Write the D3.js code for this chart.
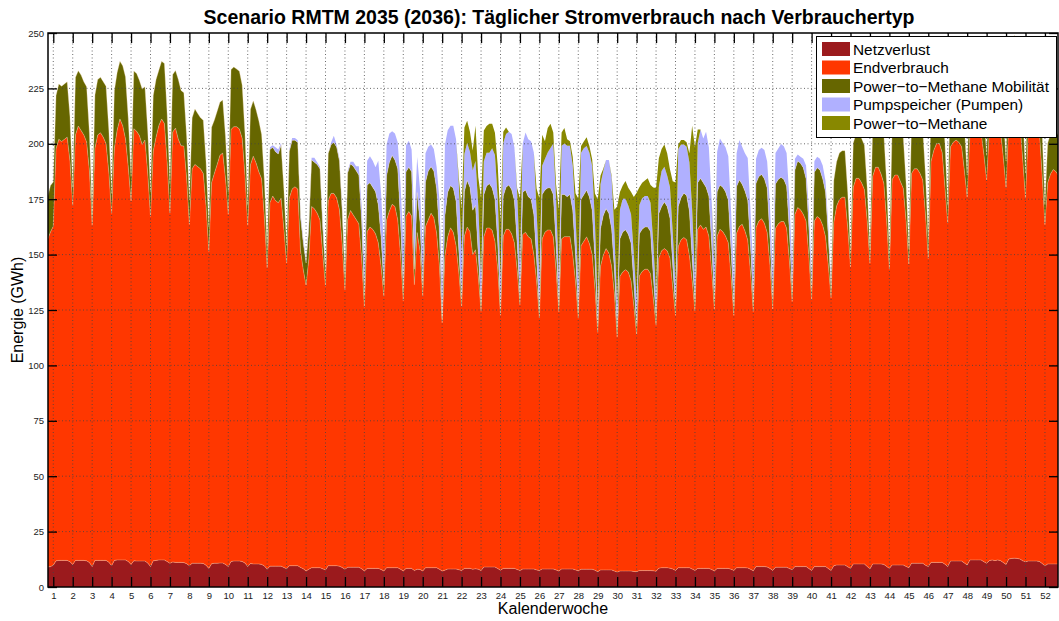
<!DOCTYPE html>
<html>
<head>
<meta charset="utf-8">
<script src="https://cdn.jsdelivr.net/npm/d3@7"></script>
<style>
  body { margin: 0; background: #fff; }
  svg { display: block; font-family: "Liberation Sans", Arial, Helvetica, sans-serif; }
  .tick line { stroke: #000; stroke-width: 1.3; }
  .tick text { font-size: 9.5px; fill: #222; font-family: "Liberation Sans", Arial, sans-serif; }
</style>
</head>
<body>
<div id="chart"></div>
<script>
var width = 1059, height = 621;
var plotLeft = 48, plotRight = 1058, plotTop = 33, plotBottom = 587;

// daily values (GWh), day 0 = 1 Jan; one line per calendar week (Mon..Sun)
var netzverlust = [
  9.0, 9.2, 9.8,
  11.8, 12.0, 12.0, 12.0, 12.0, 11.4, 10.2,
  12.0, 12.0, 12.0, 12.0, 11.8, 11.0, 9.2,
  12.0, 12.0, 12.0, 12.0, 12.0, 11.2, 9.6,
  12.0, 12.2, 12.2, 12.2, 12.2, 11.5, 10.2,
  11.8, 11.7, 11.7, 11.7, 11.7, 10.8, 9.2,
  11.8, 12.0, 12.2, 12.2, 12.2, 11.5, 10.7,
  11.3, 11.1, 11.1, 11.1, 11.0, 10.5, 9.6,
  10.7, 10.7, 10.7, 10.7, 10.6, 9.8, 8.4,
  10.5, 10.7, 10.7, 10.8, 10.8, 10.2, 9.2,
  11.5, 11.7, 11.7, 11.7, 11.5, 10.8, 9.2,
  10.6, 10.4, 10.4, 10.4, 10.2, 9.5, 8.0,
  9.4, 9.4, 9.4, 9.4, 9.4, 8.8, 8.2,
  9.6, 9.6, 9.6, 9.6, 8.8, 8.2, 7.2,
  8.0, 8.7, 8.7, 8.7, 8.7, 8.2, 7.7,
  9.6, 9.6, 9.6, 9.6, 9.4, 8.8, 8.0,
  8.9, 8.9, 8.9, 8.9, 8.9, 8.2, 7.2,
  8.4, 8.4, 8.4, 8.4, 8.4, 7.9, 7.2,
  8.7, 8.7, 8.7, 8.7, 8.7, 8.0, 7.2,
  8.4, 8.4, 8.4, 7.4, 8.0, 7.9, 7.2,
  8.7, 8.7, 8.7, 8.7, 8.7, 8.0, 7.2,
  7.6, 8.1, 8.1, 8.1, 8.1, 7.8, 7.4,
  8.4, 8.4, 8.4, 8.0, 8.2, 8.0, 7.4,
  9.0, 9.0, 9.0, 9.0, 9.0, 8.3, 7.6,
  8.4, 8.4, 8.4, 8.4, 8.4, 7.9, 7.4,
  8.1, 8.1, 8.1, 8.1, 8.1, 7.7, 7.4,
  8.1, 8.1, 8.1, 8.1, 8.1, 7.7, 7.2,
  8.1, 8.1, 8.1, 8.1, 8.1, 7.7, 7.3,
  8.0, 8.0, 8.0, 8.0, 8.0, 7.6, 6.9,
  7.7, 7.7, 7.7, 7.7, 7.7, 7.2, 6.7,
  7.2, 7.2, 7.2, 7.2, 7.2, 7.0, 6.9,
  7.4, 7.4, 7.4, 7.4, 7.4, 7.3, 7.1,
  8.5, 8.7, 8.7, 8.7, 8.5, 8.1, 7.5,
  8.7, 8.7, 8.7, 8.7, 8.7, 8.1, 7.5,
  8.4, 8.4, 8.4, 8.4, 8.4, 7.9, 7.2,
  8.4, 8.4, 8.4, 8.4, 8.4, 8.0, 7.5,
  8.7, 8.7, 8.7, 8.7, 8.6, 8.0, 7.3,
  9.2, 9.2, 9.2, 9.2, 9.0, 8.4, 7.5,
  8.9, 8.9, 8.9, 8.9, 8.9, 8.3, 7.8,
  9.2, 9.2, 9.2, 9.2, 9.2, 8.3, 7.5,
  9.2, 9.2, 9.2, 9.2, 9.2, 8.3, 7.5,
  9.6, 9.9, 9.9, 9.9, 9.9, 9.1, 8.4,
  10.4, 10.4, 10.4, 10.4, 10.4, 9.3, 8.1,
  10.4, 10.4, 10.4, 10.4, 10.2, 9.3, 8.4,
  9.9, 9.9, 9.9, 9.9, 9.9, 9.3, 8.7,
  10.7, 10.7, 10.7, 10.7, 10.7, 9.8, 9.2,
  11.1, 11.1, 11.1, 11.1, 11.1, 10.3, 9.2,
  11.7, 11.7, 11.7, 11.7, 11.7, 10.8, 9.9,
  12.2, 12.2, 12.2, 12.2, 12.2, 11.4, 10.7,
  11.9, 12.2, 11.9, 12.2, 11.9, 11.0, 10.2,
  12.6, 12.9, 13.0, 12.9, 12.6, 11.8, 11.4,
  11.7, 11.7, 11.7, 11.7, 11.5, 10.6, 9.5,
  10.4, 10.4, 10.4, 10.4, 10.4, 10.2
];

var endverbrauch = [
  148, 151, 153,
  186, 190, 189, 190, 191, 181, 162,
  192, 196, 194, 192, 189, 177, 154,
  186, 192, 193, 191, 188, 176, 159,
  186, 194, 199, 196, 190, 178, 164,
  195, 194, 192, 188, 190, 176, 158,
  185, 191, 196, 199, 197, 180, 158,
  194, 196, 191, 188, 188, 174, 154,
  178, 180, 179, 178, 176, 162, 143,
  172, 176, 180, 184, 185, 174, 159,
  195, 196, 196, 195, 191, 175, 154,
  180, 184, 181, 177, 174, 157, 136,
  164, 167, 165, 164, 166, 153, 138,
  166, 170, 171, 170, 143, 135, 129,
  140, 163, 162, 160, 157, 142, 128,
  165, 168, 168, 166, 161, 146, 126,
  157, 161, 159, 157, 155, 140, 119,
  152, 154, 153, 151, 147, 137, 124,
  157, 161, 164, 163, 157, 142, 122,
  159, 161, 159, 129, 152, 144, 124,
  154, 157, 160, 158, 151, 137, 112,
  142, 150, 154, 152, 146, 134, 119,
  150, 154, 152, 142, 144, 132, 117,
  149, 153, 153, 152, 147, 135, 115,
  150, 153, 153, 151, 147, 135, 120,
  151, 152, 150, 149, 142, 130, 114,
  149, 152, 153, 153, 150, 135, 117,
  149, 150, 150, 150, 142, 130, 114,
  146, 148, 150, 147, 142, 127, 108,
  137, 142, 145, 143, 137, 125, 106,
  133, 135, 136, 135, 131, 120, 107,
  133, 135, 136, 136, 134, 123, 111,
  140, 143, 144, 143, 140, 127, 115,
  145, 148, 149, 148, 141, 130, 117,
  153, 155, 153, 154, 150, 135, 118,
  150, 153, 152, 150, 147, 132, 115,
  151, 154, 155, 152, 148, 134, 117,
  153, 156, 157, 155, 151, 137, 118,
  153, 155, 156, 156, 153, 139, 121,
  159, 162, 161, 159, 156, 141, 122,
  156, 158, 157, 154, 149, 137, 123,
  155, 162, 165, 166, 166, 153, 136,
  170, 174, 174, 172, 169, 156, 138,
  175, 179, 179, 176, 172, 156, 135,
  174, 176, 176, 173, 170, 156, 137,
  176, 178, 178, 176, 173, 158, 139,
  181, 186, 189, 189, 185, 170, 155,
  187, 189, 190, 189, 187, 177, 166,
  193, 196, 197, 196, 193, 184, 173,
  194, 197, 198, 197, 194, 183, 170,
  197, 201, 202, 200, 197, 181, 164,
  194, 197, 198, 196, 194, 175, 154,
  172, 176, 178, 177, 175, 170
];

var mobilitaet = [
  19, 21, 20,
  24, 25, 25, 25, 25, 20, 8,
  26, 25, 25, 24, 25, 17, 5,
  24, 25, 25, 25, 26, 19, 9,
  26, 26, 26, 27, 28, 22, 11,
  26, 26, 25, 25, 24, 19, 11,
  25, 26, 25, 26, 27, 22, 13,
  26, 26, 27, 25, 24, 19, 11,
  23, 25, 24, 23, 24, 20, 11,
  25, 24, 24, 24, 24, 19, 10,
  27, 27, 26, 26, 24, 19, 9,
  25, 25, 24, 23, 20, 17, 8,
  24, 22, 22, 22, 24, 18, 8,
  21, 22, 21, 21, 15, 12, 10,
  14, 21, 21, 22, 23, 12, 6,
  21, 22, 23, 23, 22, 15, 6,
  21, 21, 22, 22, 22, 17, 5,
  21, 20, 19, 19, 17, 13, 5,
  20, 22, 22, 21, 23, 15, 5,
  20, 20, 20, 7, 18, 13, 4,
  20, 22, 21, 21, 20, 15, 2,
  18, 20, 19, 20, 20, 10, 3,
  20, 21, 20, 20, 20, 10, 3,
  19, 19, 20, 19, 19, 12, 3,
  18, 19, 20, 20, 19, 12, 3,
  19, 19, 18, 18, 18, 10, 3,
  20, 19, 19, 19, 19, 12, 3,
  20, 19, 18, 19, 20, 12, 3,
  21, 21, 21, 21, 20, 13, 3,
  17, 18, 18, 18, 17, 11, 4,
  17, 18, 18, 17, 17, 10, 4,
  19, 19, 19, 19, 19, 10, 4,
  20, 20, 21, 20, 18, 10, 4,
  18, 19, 20, 20, 20, 10, 4,
  21, 21, 21, 18, 18, 12, 4,
  20, 20, 20, 20, 19, 12, 4,
  21, 21, 18, 18, 18, 12, 4,
  20, 20, 20, 20, 20, 12, 4,
  20, 20, 20, 19, 19, 13, 4,
  20, 21, 21, 21, 19, 13, 4,
  22, 22, 22, 21, 20, 13, 4,
  19, 20, 21, 21, 21, 16, 6,
  20, 20, 20, 20, 20, 15, 6,
  23, 22, 22, 22, 22, 17, 7,
  23, 23, 23, 23, 23, 17, 7,
  24, 24, 23, 23, 23, 18, 8,
  26, 25, 25, 24, 24, 20, 8,
  26, 26, 26, 26, 25, 20, 10,
  27, 27, 27, 27, 27, 20, 11,
  28, 28, 28, 28, 27, 20, 12,
  30, 32, 34, 32, 30, 22, 11,
  27, 28, 28, 28, 27, 19, 9,
  18, 18, 18, 18, 18, 18
];

var pumpen = [
  0, 0, 0,
  0, 0, 0, 0, 0, 0, 0,
  0, 0, 0, 0, 0, 0, 0,
  0, 0, 0, 0, 0, 0, 0,
  0, 0, 0, 0, 0, 0, 0,
  0, 0, 0, 0, 0, 0, 0,
  0, 0, 0, 0, 0, 0, 0,
  0, 0, 0, 0, 0, 0, 0,
  0, 0, 0, 0, 0, 0, 0,
  0, 0, 0, 0, 0, 0, 0,
  0, 0, 0, 0, 0, 0, 0,
  0, 0, 0, 0, 0, 0, 0,
  1, 1, 2, 2, 1, 0, 0,
  1, 1, 1, 1, 2, 2, 1,
  2, 1, 2, 1, 1, 3, 2,
  0, 1, 3, 1, 1, 2, 3,
  1, 1, 2, 2, 4, 7, 14,
  11, 12, 12, 11, 20, 20, 18,
  14, 13, 11, 12, 12, 17, 21,
  12, 12, 10, 22, 16, 15, 17,
  13, 11, 10, 10, 10, 15, 13,
  32, 28, 27, 28, 28, 30, 21,
  17, 17, 16, 18, 20, 22, 13,
  15, 15, 14, 18, 20, 20, 14,
  24, 24, 24, 25, 24, 23, 15,
  22, 26, 26, 26, 28, 22, 16,
  13, 14, 16, 18, 23, 21, 13,
  22, 23, 23, 22, 20, 18, 14,
  21, 21, 20, 20, 20, 17, 8,
  20, 20, 22, 24, 23, 17, 11,
  13, 15, 14, 13, 13, 13, 12,
  13, 14, 14, 14, 13, 15, 10,
  12, 16, 16, 14, 14, 15, 10,
  26, 24, 22, 22, 22, 22, 12,
  18, 22, 20, 25, 22, 20, 16,
  18, 21, 20, 20, 20, 18, 14,
  15, 18, 17, 17, 19, 16, 14,
  11, 12, 12, 13, 12, 15, 13,
  14, 14, 15, 15, 15, 15, 12,
  5, 3, 3, 4, 6, 8, 8,
  5, 5, 5, 6, 5, 5, 3,
  0, 0, 0, 0, 0, 0, 0,
  0, 0, 0, 0, 0, 0, 0,
  0, 0, 0, 0, 0, 0, 0,
  0, 0, 0, 0, 0, 0, 0,
  0, 0, 0, 0, 0, 0, 0,
  0, 0, 0, 0, 0, 0, 0,
  0, 0, 0, 0, 0, 0, 0,
  0, 0, 0, 0, 0, 0, 0,
  0, 0, 0, 0, 0, 0, 0,
  0, 0, 0, 0, 0, 0, 0,
  0, 0, 0, 0, 0, 0, 0,
  0, 0, 0, 0, 0, 0
];

var methan = [
  0, 0, 0,
  0, 0, 0, 0, 0, 0, 0,
  0, 0, 0, 0, 0, 0, 0,
  0, 0, 0, 0, 0, 0, 0,
  0, 0, 0, 0, 0, 0, 0,
  0, 0, 0, 0, 0, 0, 0,
  0, 0, 0, 0, 0, 0, 0,
  0, 0, 0, 0, 0, 0, 0,
  0, 0, 0, 0, 0, 0, 0,
  0, 0, 0, 0, 0, 0, 0,
  0, 0, 0, 0, 0, 0, 0,
  0, 0, 0, 0, 0, 0, 0,
  0, 0, 0, 0, 0, 0, 0,
  0, 0, 0, 0, 0, 0, 0,
  0, 0, 0, 0, 0, 0, 0,
  0, 0, 0, 0, 0, 0, 0,
  0, 0, 0, 0, 0, 0, 0,
  0, 0, 0, 0, 0, 0, 0,
  0, 0, 0, 0, 0, 0, 0,
  0, 0, 0, 0, 0, 0, 0,
  0, 0, 0, 0, 0, 0, 0,
  0, 0, 0, 0, 0, 3, 20,
  12, 10, 9, 9, 16, 13, 35,
  14, 12, 13, 11, 10, 15, 25,
  5, 3, 0, 0, 0, 2, 30,
  0, 0, 0, 0, 0, 10, 35,
  14, 8, 11, 11, 5, 6, 30,
  6, 7, 3, 2, 4, 10, 37,
  3, 3, 4, 3, 3, 13, 49,
  4, 1, 0, 0, 1, 10, 44,
  8, 6, 8, 8, 10, 26, 48,
  8, 7, 7, 8, 8, 25, 48,
  13, 10, 10, 10, 8, 23, 46,
  2, 2, 2, 2, 4, 38, 58,
  6, 0, 0, 0, 0, 0, 5,
  0, 0, 0, 0, 0, 0, 0,
  0, 0, 0, 0, 0, 0, 0,
  0, 0, 0, 0, 0, 0, 0,
  0, 0, 0, 0, 0, 0, 0,
  0, 0, 0, 0, 0, 0, 0,
  0, 0, 0, 0, 0, 0, 0,
  0, 0, 0, 0, 0, 0, 0,
  0, 0, 0, 0, 0, 0, 0,
  0, 0, 0, 0, 0, 0, 0,
  0, 0, 0, 0, 0, 0, 0,
  0, 0, 0, 0, 0, 0, 0,
  0, 0, 0, 0, 0, 0, 0,
  0, 0, 0, 0, 0, 0, 0,
  0, 0, 0, 0, 0, 0, 0,
  0, 0, 0, 0, 0, 0, 0,
  0, 0, 0, 0, 0, 0, 0,
  0, 0, 0, 0, 0, 0, 0,
  0, 0, 0, 0, 0, 0
];

var weeks = d3.range(1, 53);
var yTicks = [0, 25, 50, 75, 100, 125, 150, 175, 200, 225, 250];

var series = [
  { key: "Netzverlust", label: "Netzverlust", values: netzverlust, color: "#9b1a1d" },
  { key: "Endverbrauch", label: "Endverbrauch", values: endverbrauch, color: "#ff3700" },
  { key: "Mobilitaet", label: "Power\u2212to\u2212Methane Mobilität", values: mobilitaet, color: "#666600" },
  { key: "Pumpen", label: "Pumpspeicher (Pumpen)", values: pumpen, color: "#b0b0ff" },
  { key: "Methan", label: "Power\u2212to\u2212Methane", values: methan, color: "#888800" }
];

var n = d3.min(series, function(s) { return s.values.length; });
var rows = d3.range(n).map(function(i) {
  var r = { day: i };
  series.forEach(function(s) { r[s.key] = s.values[i]; });
  return r;
});

// first week tick falls on day 2 (Sunday)
function weekDay(k) { return 2 + 7 * (k - 1); }

var x = d3.scaleLinear().domain([0.1, 363.7]).range([plotLeft, plotRight]);
var y = d3.scaleLinear().domain([0, 250]).range([plotBottom, plotTop]);

var svg = d3.select("#chart").append("svg").attr("width", width).attr("height", height);

svg.append("clipPath").attr("id", "plot")
  .append("rect").attr("x", plotLeft).attr("y", plotTop)
  .attr("width", plotRight - plotLeft).attr("height", plotBottom - plotTop);

var stack = d3.stack().keys(series.map(function(s) { return s.key; }));
var layers = stack(rows);

var area = d3.area()
  .x(function(d) { return x(d.data.day); })
  .y0(function(d) { return y(d[0]); })
  .y1(function(d) { return y(d[1]); });

var g = svg.append("g").attr("clip-path", "url(#plot)");

g.selectAll("path.layer")
  .data(layers)
  .enter().append("path")
    .attr("class", "layer")
    .attr("fill", function(d, i) { return series[i].color; })
    .attr("d", area);

// light seam on top of red and dark olive layers
var topLine = d3.line()
  .x(function(d) { return x(d.data.day); })
  .y(function(d) { return y(d[1]); });

g.selectAll("path.seam")
  .data(layers.slice(0, 3))
  .enter().append("path")
    .attr("class", "seam")
    .attr("fill", "none")
    .attr("stroke", "rgba(255,230,190,0.45)")
    .attr("stroke-width", 0.7)
    .attr("d", topLine);

// dotted grid
var grid = svg.append("g").attr("stroke", "#444").attr("stroke-width", 0.8).attr("stroke-dasharray", "1,2.5");
grid.selectAll("line.v")
  .data(weeks)
  .enter().append("line")
    .attr("x1", function(k) { return x(weekDay(k)); })
    .attr("x2", function(k) { return x(weekDay(k)); })
    .attr("y1", plotTop).attr("y2", plotBottom);
grid.selectAll("line.h")
  .data(yTicks.slice(1, -1))
  .enter().append("line")
    .attr("y1", function(d) { return y(d); })
    .attr("y2", function(d) { return y(d); })
    .attr("x1", plotLeft).attr("x2", plotRight);

// axes with inward ticks
var tickDays = weeks.map(weekDay);

svg.append("g")
  .attr("transform", "translate(0," + plotBottom + ")")
  .call(d3.axisBottom(x).tickValues(tickDays).tickSize(-10).tickPadding(5)
    .tickFormat(function(d, i) { return weeks[i]; }))
  .call(function(a) { a.select(".domain").remove(); });

svg.append("g")
  .attr("transform", "translate(0," + plotTop + ")")
  .call(d3.axisTop(x).tickValues(tickDays).tickSize(-10).tickFormat(""))
  .call(function(a) { a.select(".domain").remove(); });

svg.append("g")
  .attr("transform", "translate(" + plotLeft + ",0)")
  .call(d3.axisLeft(y).tickValues(yTicks).tickSize(-9).tickPadding(4))
  .call(function(a) { a.select(".domain").remove(); });

svg.append("g")
  .attr("transform", "translate(" + plotRight + ",0)")
  .call(d3.axisRight(y).tickValues(yTicks).tickSize(-9).tickFormat(""))
  .call(function(a) { a.select(".domain").remove(); });

svg.append("rect")
  .attr("x", plotLeft).attr("y", plotTop)
  .attr("width", plotRight - plotLeft).attr("height", plotBottom - plotTop)
  .attr("fill", "none").attr("stroke", "#000").attr("stroke-width", 1.5);

// titles
svg.append("text")
  .attr("x", 559).attr("y", 24)
  .attr("text-anchor", "middle")
  .attr("font-size", "19.5px").attr("font-weight", "bold")
  .text("Scenario RMTM 2035 (2036): Täglicher Stromverbrauch nach Verbrauchertyp");

svg.append("text")
  .attr("x", 553).attr("y", 614)
  .attr("text-anchor", "middle")
  .attr("font-size", "16px")
  .text("Kalenderwoche");

svg.append("text")
  .attr("transform", "translate(23,310) rotate(-90)")
  .attr("text-anchor", "middle")
  .attr("font-size", "16px")
  .text("Energie (GWh)");

// legend
var legend = svg.append("g");
legend.append("rect")
  .attr("x", 816.5).attr("y", 36.5).attr("width", 240).attr("height", 101)
  .attr("fill", "#fff").attr("stroke", "#000").attr("stroke-width", 1);

var item = legend.selectAll("g.item")
  .data(series)
  .enter().append("g")
    .attr("class", "item")
    .attr("transform", function(d, i) { return "translate(822," + (42 + i * 18.5) + ")"; });

item.append("rect")
  .attr("width", 28).attr("height", 14)
  .attr("fill", function(d) { return d.color; });

item.append("text")
  .attr("x", 31).attr("y", 12.5)
  .attr("font-size", "15.4px")
  .text(function(d) { return d.label; });
</script>
</body>
</html>
